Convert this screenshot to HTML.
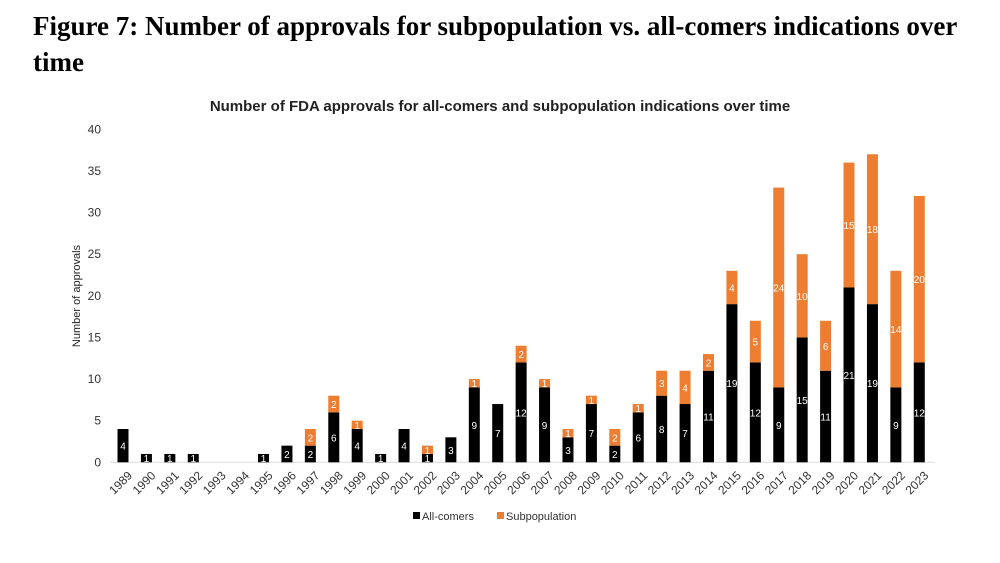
<!DOCTYPE html>
<html><head><meta charset="utf-8"><style>
body{margin:0;background:#fff;width:1000px;height:563px;overflow:hidden}
h1{position:absolute;left:33px;top:8px;margin:0;font:bold 27px/36px "Liberation Serif",serif;color:#000;width:960px}
svg{position:absolute;left:0;top:0}
</style></head><body>
<h1>Figure 7: Number of approvals for subpopulation vs. all-comers indications over time</h1>
<svg id="c" width="1000" height="563" font-family="Liberation Sans, Arial, sans-serif"></svg>
<script>
const years=[1989,1990,1991,1992,1993,1994,1995,1996,1997,1998,1999,2000,2001,2002,2003,2004,2005,2006,2007,2008,2009,2010,2011,2012,2013,2014,2015,2016,2017,2018,2019,2020,2021,2022,2023];
const allComers=[4,1,1,1,0,0,1,2,2,6,4,1,4,1,3,9,7,12,9,3,7,2,6,8,7,11,19,12,9,15,11,21,19,9,12];
const subpop=[0,0,0,0,0,0,0,0,2,2,1,0,0,1,0,1,0,2,1,1,1,2,1,3,4,2,4,5,24,10,6,15,18,14,20];
const yTicks=[0,5,10,15,20,25,30,35,40];
const svg=document.getElementById('c');const NS='http://www.w3.org/2000/svg';
function el(t,a,txt){const e=document.createElementNS(NS,t);for(const k in a)e.setAttribute(k,a[k]);if(txt!==undefined)e.textContent=txt;svg.appendChild(e);return e;}
const y0=462.3,yTop=129.3,yMax=40;
const Y=v=>y0-(y0-yTop)*v/yMax;
const X=i=>123+i*23.42;
const bw=11;
let t=el('text',{x:500,y:111,'text-anchor':'middle','font-size':15,'font-weight':'bold',fill:'#222'},'Number of FDA approvals for all-comers and subpopulation indications over time');

t=el('text',{x:80,y:296,'text-anchor':'middle','font-size':11,fill:'#222',transform:'rotate(-90 80 296)'},'Number of approvals');

yTicks.forEach(v=>{const e=el('text',{x:101,y:Y(v)+4,'text-anchor':'end','font-size':12,fill:'#333'},v);
});
const ax=el('line',{x1:110,x2:935,y1:y0,y2:y0,stroke:'#d9d9d9','stroke-width':1});

years.forEach((yr,i)=>{
 const cx=X(i),a=allComers[i],s=subpop[i];
 if(a>0){const r=el('rect',{x:cx-bw/2,y:Y(a),width:bw,height:y0-Y(a),fill:'#000'});
  
  const l=el('text',{x:cx,y:(Y(a)+y0)/2+4,'text-anchor':'middle','font-size':10,fill:'#fff'},a);
  }
 if(s>0){const r=el('rect',{x:cx-bw/2,y:Y(a+s),width:bw,height:Y(a)-Y(a+s),fill:'#ed7d31'});
  
  const l=el('text',{x:cx,y:(Y(a+s)+Y(a))/2+4,'text-anchor':'middle','font-size':10,fill:'#fff'},s);
  }
 const tx=cx+4,ty=y0+8;
 const xl=el('text',{x:tx,y:ty,'text-anchor':'end','font-size':12,fill:'#333',transform:`rotate(-45 ${tx} ${ty})`,dy:'0.7em'},yr);
 
});
let g=el('rect',{x:413,y:512,width:7,height:7,fill:'#000'});
g=el('text',{x:422,y:520,'font-size':11,fill:'#333'},'All-comers');
g=el('rect',{x:497,y:512,width:7,height:7,fill:'#ed7d31'});
g=el('text',{x:506,y:520,'font-size':11,fill:'#333'},'Subpopulation');
</script>
</body></html>
